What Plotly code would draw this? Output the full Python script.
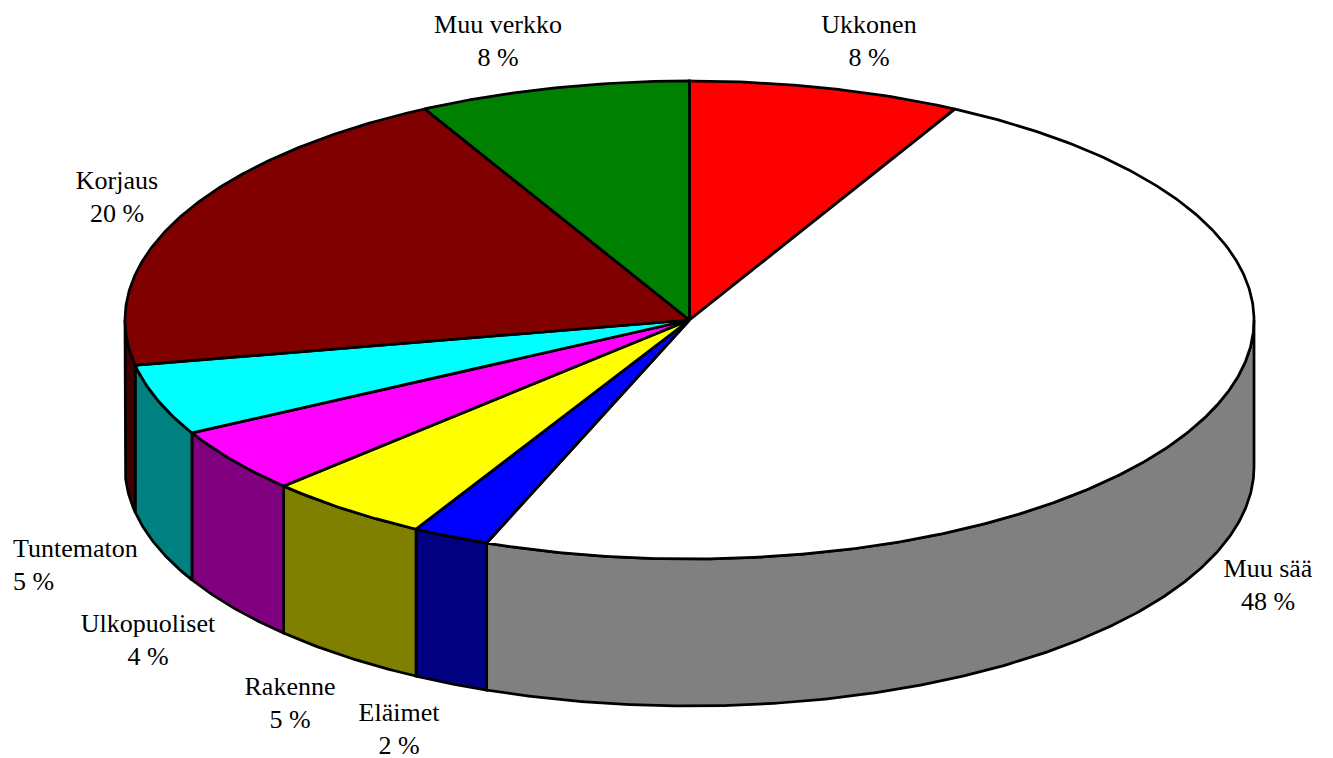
import numpy as np
import plotly.graph_objects as go

# Data, clockwise from 12 o'clock
categories = ["Ukkonen", "Muu sää", "Eläimet", "Rakenne", "Ulkopuoliset", "Tuntematon", "Korjaus", "Muu verkko"]
shares = [7.79, 48.06, 2.2, 4.72, 4.4, 4.8, 20.26, 7.77]
shown_percent = [8, 48, 2, 5, 4, 5, 20, 8]
top_colors = ["#ff0000", "#ffffff", "#0000ff", "#ffff00", "#ff00ff", "#00ffff", "#800000", "#008000"]
side_colors = ["#800000", "#808080", "#000080", "#808000", "#800080", "#008080", "#400000", "#004000"]
label_x = [869, 1268, 399, 290, 148, 13, 117, 498]
label_y = [43, 587, 731, 705, 642, 567, 199, 43]
label_pos = ["middle center"] * 5 + ["middle right"] + ["middle center"] * 2

CX, CY, RX, RY, DEPTH = 689.5, 320, 564.5, 239, 147


def rim(a0, a1):
    t = np.radians(np.linspace(a0, a1, max(3, int(abs(a1 - a0) * 2))))
    return CX + RX * np.sin(t), CY - RY * np.cos(t)


fig = go.Figure()
line = dict(color="#000000", width=2.75)
edges = np.concatenate([[0], np.cumsum(shares)]) / sum(shares) * 360

# Side walls (only the front half of the rim, 90 to 270 degrees)
for i in range(len(categories)):
    a0, a1 = max(edges[i], 90), min(edges[i + 1], 270)
    if a1 <= a0:
        continue
    x, y = rim(a0, a1)
    fig.add_trace(go.Scatter(
        x=np.concatenate([x, x[::-1], x[:1]]),
        y=np.concatenate([y, y[::-1] + DEPTH, y[:1]]),
        mode="lines", fill="toself", fillcolor=side_colors[i], line=line, hoverinfo="skip"))

# Top faces
for i, name in enumerate(categories):
    x, y = rim(edges[i], edges[i + 1])
    fig.add_trace(go.Scatter(
        x=np.concatenate([[CX], x, [CX]]),
        y=np.concatenate([[CY], y, [CY]]),
        mode="lines", fill="toself", fillcolor=top_colors[i], line=line, name=name, hoverinfo="name"))

# Labels
fig.add_trace(go.Scatter(
    x=label_x, y=label_y, mode="text",
    text=[f"{c}<br>{p} %" for c, p in zip(categories, shown_percent)],
    textposition=label_pos,
    textfont=dict(family="Liberation Serif", size=26, color="#000000"),
    hoverinfo="skip"))

fig.update_layout(
    width=1333, height=758, showlegend=False,
    margin=dict(l=0, r=0, t=0, b=0),
    paper_bgcolor="#ffffff", plot_bgcolor="#ffffff",
    xaxis=dict(range=[0, 1333], visible=False, fixedrange=True),
    yaxis=dict(range=[758, 0], visible=False, fixedrange=True),
)
fig.write_html("out.html", config=dict(displayModeBar=False),
               post_script="document.body.style.margin='0';document.body.style.overflow='hidden';")
